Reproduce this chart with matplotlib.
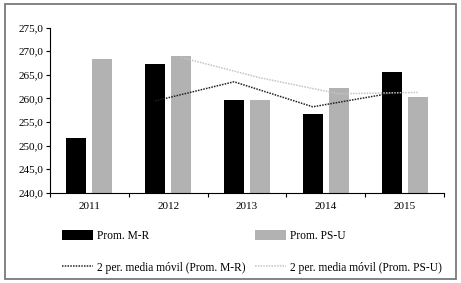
import numpy as np
import pandas as pd
import matplotlib
matplotlib.use('Agg')
import matplotlib.pyplot as plt
from matplotlib.patches import Rectangle, Patch
from matplotlib.lines import Line2D

# datos
anios = ['2011', '2012', '2013', '2014', '2015']
prom_mr = [251.6, 267.3, 259.7, 256.7, 265.5]
prom_psu = [268.3, 269.0, 259.7, 262.2, 260.3]

# media movil de 2 periodos (lineas de tendencia)
mm_mr = pd.Series(prom_mr).rolling(2).mean().values
mm_psu = pd.Series(prom_psu).rolling(2).mean().values

plt.rcParams['font.family'] = ['Liberation Serif', 'DejaVu Serif']
plt.rcParams['font.size'] = 8

fig = plt.figure(figsize=(4.61, 2.83), dpi=100)
ax = fig.add_axes([50/461, 1-192.7/283, 394/461, 165.2/283])

x = np.arange(len(anios))
ancho = 0.253
desp = 0.165

ax.bar(x - desp, prom_mr, ancho, color='black', zorder=2)
ax.bar(x + desp, prom_psu, ancho, color='#b2b2b2', zorder=2)
ax.plot(x - desp, mm_mr, color='#222222', lw=1.1, ls=(0, (1, 0.8)), zorder=3)
ax.plot(x + desp, mm_psu, color='#c4c4c4', lw=1.1, ls=(0, (1, 0.8)), zorder=3)

ax.set_xlim(-0.5, len(anios) - 0.5)
ax.set_ylim(240, 275)
ax.set_yticks(np.arange(240, 276, 5))
ax.set_yticklabels([f'{v:.1f}'.replace('.', ',') for v in np.arange(240, 276, 5)])
ax.set_xticks(x)
ax.set_xticklabels(anios)
ax.set_xticks(np.arange(-0.5, len(anios), 1), minor=True)
ax.tick_params(axis='x', which='major', length=0, pad=7)
ax.tick_params(axis='x', which='minor', length=3, direction='out', width=0.8)
ax.tick_params(axis='y', length=3, width=0.8, pad=2)

for s in ['top', 'right']:
    ax.spines[s].set_visible(False)
for s in ['left', 'bottom']:
    ax.spines[s].set_linewidth(0.8)

# leyenda en dos columnas
h1 = [Patch(facecolor='black', label='Prom. M-R'),
      Line2D([], [], color='#222222', lw=1.1, ls=(0, (1, 0.8)), label='2 per. media móvil (Prom. M-R)')]
h2 = [Patch(facecolor='#b2b2b2', label='Prom. PS-U'),
      Line2D([], [], color='#c4c4c4', lw=1.1, ls=(0, (1, 0.8)), label='2 per. media móvil (Prom. PS-U)')]
for hs, x0 in [(h1, 62/461), (h2, 255/461)]:
    leg = fig.legend(handles=hs, loc='upper left', bbox_to_anchor=(x0, 1-229.5/283),
                     frameon=False, borderpad=0, borderaxespad=0, handlelength=2.7,
                     handleheight=1.0, handletextpad=0.3, labelspacing=1.75, fontsize=8.3)

fig.add_artist(Rectangle((5/461, 4/283), 451/461, 275/283, transform=fig.transFigure,
                         fill=False, edgecolor='#7a7a7a', lw=1.3))

fig.savefig('out.png', dpi=100)
